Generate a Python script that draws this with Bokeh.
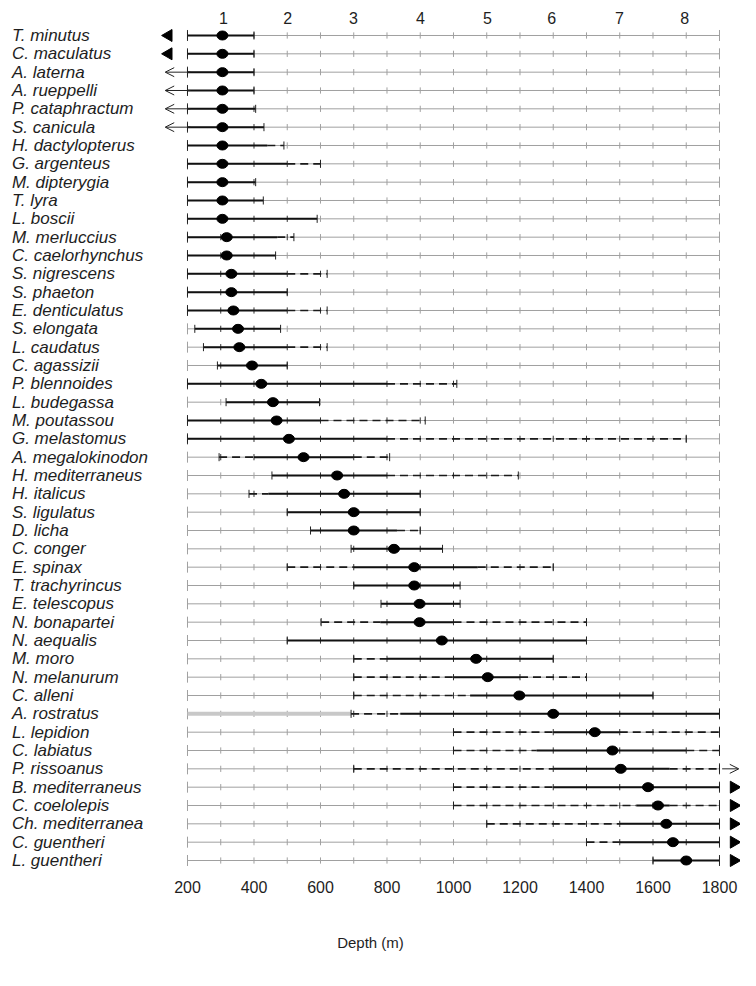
import numpy as np
from bokeh.plotting import figure
from bokeh.models import ColumnDataSource, Range1d, LinearAxis, FixedTicker, Arrow, OpenHead
from bokeh.core.properties import value
from bokeh.embed import file_html
from bokeh.resources import INLINE

# ---------------- data ----------------
species = [
    "T. minutus", "C. maculatus", "A. laterna", "A. rueppelli", "P. cataphractum",
    "S. canicula", "H. dactylopterus", "G. argenteus", "M. dipterygia", "T. lyra",
    "L. boscii", "M. merluccius", "C. caelorhynchus", "S. nigrescens", "S. phaeton",
    "E. denticulatus", "S. elongata", "L. caudatus", "C. agassizii", "P. blennoides",
    "L. budegassa", "M. poutassou", "G. melastomus", "A. megalokinodon", "H. mediterraneus",
    "H. italicus", "S. ligulatus", "D. licha", "C. conger", "E. spinax",
    "T. trachyrincus", "E. telescopus", "N. bonapartei", "N. aequalis", "M. moro",
    "N. melanurum", "C. alleni", "A. rostratus", "L. lepidion", "C. labiatus",
    "P. rissoanus", "B. mediterraneus", "C. coelolepis", "Ch. mediterranea", "C. guentheri",
    "L. guentheri",
]
# depth of the dot (m)
dot_depth = [305, 305, 305, 305, 305, 305, 305, 305, 305, 305,
             305, 318, 318, 332, 332, 338, 352, 356, 394, 422,
             457, 468, 505, 549, 650, 671, 700, 700, 821, 882,
             882, 898, 898, 965, 1068, 1103, 1198, 1300, 1425, 1478,
             1503, 1585, 1615, 1640, 1660, 1700]
# total range (dashed + solid) and solid core range (m)
range_lo = [200, 200, 200, 200, 200, 200, 200, 200, 200, 200,
            200, 200, 200, 200, 200, 200, 222, 248, 290, 200,
            316, 200, 200, 295, 454, 385, 500, 570, 692, 500,
            700, 782, 602, 500, 700, 700, 700, 692, 1000, 1000,
            700, 1000, 1000, 1100, 1400, 1600]
solid_lo = [200, 200, 200, 200, 200, 200, 200, 200, 200, 200,
            200, 200, 200, 200, 200, 200, 222, 248, 290, 200,
            316, 200, 200, 400, 454, 443, 500, 570, 692, 700,
            700, 782, 780, 500, 800, 1000, 1050, 840, 1300, 1250,
            1300, 1300, 1550, 1500, 1500, 1600]
solid_hi = [400, 400, 400, 400, 405, 430, 440, 500, 405, 428,
            590, 470, 465, 500, 500, 500, 480, 500, 500, 800,
            597, 600, 800, 700, 800, 900, 900, 830, 967, 1073,
            1020, 1020, 1000, 1400, 1300, 1200, 1600, 1800, 1500, 1700,
            1650, 1800, 1650, 1800, 1800, 1800]
range_hi = [400, 400, 400, 400, 405, 430, 490, 600, 405, 428,
            590, 520, 465, 620, 500, 620, 480, 620, 500, 1010,
            597, 915, 1700, 808, 1195, 900, 900, 900, 967, 1300,
            1020, 1020, 1400, 1400, 1300, 1400, 1600, 1800, 1800, 1800,
            1800, 1800, 1800, 1800, 1800, 1800]
# faint grey part of a range
faint_species = ["A. rostratus"]
faint_lo = [200]
faint_hi = [692]

# range continues beyond the sampled depths
left_filled = ["T. minutus", "C. maculatus"]
left_open = ["A. laterna", "A. rueppelli", "P. cataphractum", "S. canicula"]
right_open = ["P. rissoanus"]
right_filled = ["B. mediterraneus", "C. coelolepis", "Ch. mediterranea", "C. guentheri", "L. guentheri"]

depth_ticks = [200, 400, 600, 800, 1000, 1200, 1400, 1600, 1800]
zone_labels = ["1", "2", "3", "4", "5", "6", "7", "8"]
zone_depth = [308, 501, 699, 901, 1102, 1295, 1499, 1695]

# ---------------- layout constants ----------------
D_MIN, D_MAX, STEP = 200, 1800, 100
X_START, X_END = -362.4, 1863.2
LABEL_X = -328
n = len(species)
row = {s: i for i, s in enumerate(species)}
ys = np.arange(n)

p = figure(width=740, height=970,
           x_range=Range1d(X_START, X_END), y_range=Range1d(45.545, -0.436),
           output_backend="svg", toolbar_location=None,
           x_axis_location=None, y_axis_location=None,
           min_border_left=0, min_border_right=0, min_border_top=27, min_border_bottom=100)
p.grid.visible = False
p.outline_line_color = None
p.background_fill_color = "white"
p.border_fill_color = "white"

# base grey lines with 100 m ticks
p.segment(x0=[D_MIN] * n, y0=ys, x1=[D_MAX] * n, y1=ys, line_color="#a0a0a0", line_width=1)
tick_d = np.arange(D_MIN, D_MAX + 1, STEP)
tx, ty, tcol, th = [], [], [], []
for i in range(n):
    for d in tick_d:
        tx.append(d)
        ty.append(i)
        inside = range_lo[i] <= d <= range_hi[i]
        tcol.append("#333333" if inside else "#a0a0a0")
        th.append(0.3 if d in (D_MIN, D_MAX) else 0.17)
tx = np.array(tx); ty = np.array(ty); th = np.array(th)
p.segment(x0=tx, y0=ty - th, x1=tx, y1=ty + th, line_color=tcol, line_width=1)

# faint part
fy = [row[s] for s in faint_species]
p.segment(x0=faint_lo, y0=fy, x1=faint_hi, y1=fy, line_color="#c8c8c8", line_width=4)

rl = np.array(range_lo); sl = np.array(solid_lo); sh = np.array(solid_hi); rh = np.array(range_hi)
# dashed parts
m1 = rl < sl
p.segment(x0=rl[m1], y0=ys[m1], x1=sl[m1], y1=ys[m1], line_color="#1a1a1a", line_width=1.6, line_dash="8 5")
m2 = sh < rh
p.segment(x0=sh[m2], y0=ys[m2], x1=rh[m2], y1=ys[m2], line_color="#1a1a1a", line_width=1.6, line_dash="8 5")
# solid core
p.segment(x0=sl, y0=ys, x1=sh, y1=ys, line_color="#111111", line_width=2)
# end caps of the ranges
p.segment(x0=np.concatenate([rl, rh]), y0=np.concatenate([ys, ys]) - 0.22,
          x1=np.concatenate([rl, rh]), y1=np.concatenate([ys, ys]) + 0.22,
          line_color="#222222", line_width=1)
# dots
p.ellipse(x=dot_depth, y=ys, width=11, height=9, width_units="screen", height_units="screen",
          fill_color="black", line_color="black")

# species names
p.text(x=[LABEL_X] * n, y=ys, text=species, text_font=value("Liberation Sans"),
       text_font_style="italic", text_font_size="17px", text_baseline="middle",
       text_align="left", text_color="#1e1e1e")

# continuation markers
p.scatter(x=[143] * len(left_filled), y=[row[s] for s in left_filled], marker="triangle",
          size=12, angle=np.pi / 2, color="black")
p.scatter(x=[1843] * len(right_filled), y=[row[s] for s in right_filled], marker="triangle",
          size=12, angle=-np.pi / 2, color="black")
lsrc = ColumnDataSource(dict(x0=[209] * len(left_open), x1=[133] * len(left_open),
                             y=[row[s] for s in left_open]))
p.add_layout(Arrow(end=OpenHead(size=9, line_width=1, line_color="#222222"),
                   x_start="x0", y_start="y", x_end="x1", y_end="y", source=lsrc,
                   line_width=1, line_color="#222222"))
rsrc = ColumnDataSource(dict(x0=[1808] * len(right_open), x1=[1858] * len(right_open),
                             y=[row[s] for s in right_open]))
p.add_layout(Arrow(end=OpenHead(size=9, line_width=1, line_color="#222222"),
                   x_start="x0", y_start="y", x_end="x1", y_end="y", source=rsrc,
                   line_width=1, line_color="#222222"))

# axes
bottom = LinearAxis(ticker=FixedTicker(ticks=depth_ticks), axis_label="Depth (m)")
bottom.axis_line_color = None
bottom.major_tick_line_color = None
bottom.minor_tick_line_color = None
bottom.major_tick_out = 0
bottom.major_label_standoff = 10
bottom.axis_label_standoff = 38
bottom.major_label_text_font = "Liberation Sans"
bottom.major_label_text_font_size = "16px"
bottom.major_label_text_color = "#1e1e1e"
bottom.axis_label_text_font = "Liberation Sans"
bottom.axis_label_text_font_size = "15px"
bottom.axis_label_text_font_style = "normal"
bottom.axis_label_text_color = "#1e1e1e"
p.add_layout(bottom, "below")

top = LinearAxis(ticker=FixedTicker(ticks=zone_depth),
                 major_label_overrides={d: l for d, l in zip(zone_depth, zone_labels)})
top.axis_line_color = None
top.major_tick_line_color = None
top.minor_tick_line_color = None
top.major_tick_out = 0
top.major_label_standoff = 4
top.major_label_text_font = "Liberation Sans"
top.major_label_text_font_size = "16px"
top.major_label_text_color = "#1e1e1e"
p.add_layout(top, "above")

open("out.html", "w").write(file_html(p, INLINE))
